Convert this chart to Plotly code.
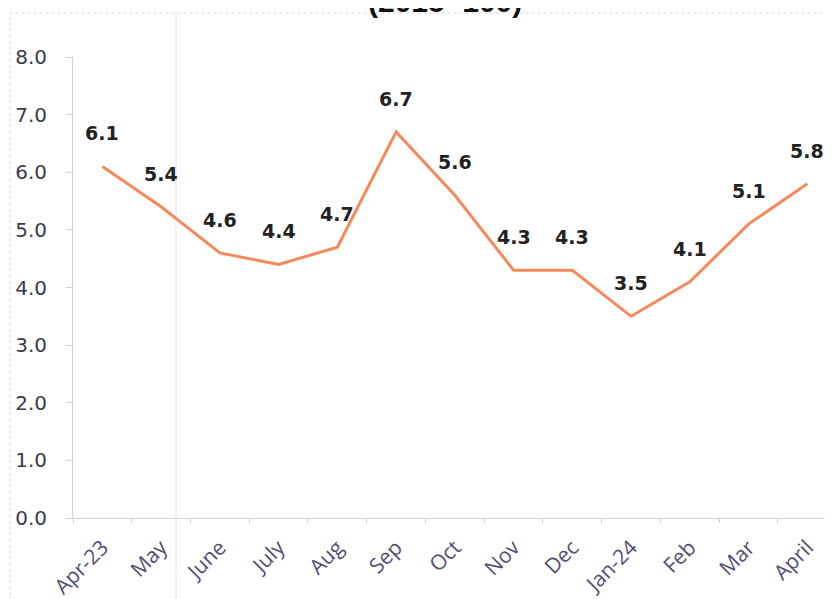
import plotly.graph_objects as go

months = ["Apr-23", "May", "June", "July", "Aug", "Sep", "Oct", "Nov", "Dec",
          "Jan-24", "Feb", "Mar", "April"]
values = [6.1, 5.4, 4.6, 4.4, 4.7, 6.7, 5.6, 4.3, 4.3, 3.5, 4.1, 5.1, 5.8]
y_ticks = [0, 1, 2, 3, 4, 5, 6, 7, 8]
y_tick_text = [f"{v:.1f}" for v in y_ticks]
title_text = "(2015=100)"

fig = go.Figure()
fig.add_trace(go.Scatter(
    x=months, y=values, mode="lines",
    line=dict(color="#F5895C", width=3),
    hoverinfo="skip", showlegend=False,
))

for m, v in zip(months, values):
    fig.add_annotation(
        x=m, y=v, xref="x", yref="y", text=f"<b>{v:.1f}</b>", showarrow=False,
        yshift=33, font=dict(family="DejaVu Sans", size=19, color="#222222"),
        xanchor="center", yanchor="middle",
    )

# chart title, cropped at top edge as in the source image
fig.add_annotation(
    x=0.5, y=1, xref="paper", yref="paper", text=f"<b>{title_text}</b>",
    showarrow=False, yanchor="bottom", xanchor="center", xshift=-8, yshift=37,
    font=dict(family="Liberation Sans", size=30, color="#111111"),
)

# chart border (faint)
fig.add_shape(type="rect", xref="paper", yref="paper",
              x0=-0.083, x1=1.02, y0=-0.25, y1=1.0954,
              line=dict(color="#d4d4e6", width=1, dash="dot"), layer="below")
fig.add_shape(type="line", xref="paper", yref="paper",
              x0=0.1357, x1=0.1357, y0=-0.25, y1=1.0954,
              line=dict(color="#e2e2f0", width=1), layer="below")

fig.update_layout(
    width=832, height=599,
    margin=dict(l=65, r=8, t=49, b=89),
    paper_bgcolor="white", plot_bgcolor="white",
    xaxis=dict(
        type="category", range=[-0.5, 12.42], automargin=False,
        showgrid=False, zeroline=False,
        showline=True, linecolor="#cfcfe2", linewidth=1,
        ticks="outside", ticklen=4, tickcolor="#cfcfe2", tickson="boundaries",
        tickangle=-45, ticklabelstandoff=8,
        tickfont=dict(family="Open Sans", size=21, color="#544d72"),
    ),
    yaxis=dict(
        range=[0, 8], tickvals=y_ticks, ticktext=y_tick_text, automargin=False,
        showgrid=False, zeroline=False,
        showline=True, linecolor="#cfcfe2", linewidth=1,
        ticks="outside", ticklen=6, tickcolor="#cfcfe2",
        ticklabelstandoff=15,
        tickfont=dict(family="DejaVu Sans", size=20, color="#3a3a48"),
    ),
)

fig.write_html("out.html")
